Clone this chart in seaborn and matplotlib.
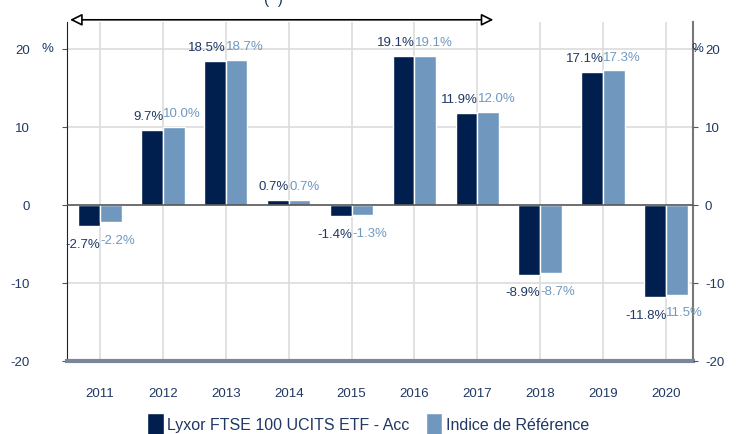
import seaborn as sb
import matplotlib.pyplot as plt
import pandas as pd
import numpy as np

years = ["2011", "2012", "2013", "2014", "2015", "2016", "2017", "2018", "2019", "2020"]
fund = [-2.7, 9.7, 18.5, 0.7, -1.4, 19.1, 11.9, -8.9, 17.1, -11.8]
index = [-2.2, 10.0, 18.7, 0.7, -1.3, 19.1, 12.0, -8.7, 17.3, -11.5]
fund_labels = ["-2.7%", "9.7%", "18.5%", "0.7%", "-1.4%", "19.1%", "11.9%", "-8.9%", "17.1%", "-11.8%"]
index_labels = ["-2.2%", "10.0%", "18.7%", "0.7%", "-1.3%", "19.1%", "12.0%", "-8.7%", "17.3%", "11.5%"]
series = ["Lyxor FTSE 100 UCITS ETF - Acc", "Indice de Référence"]

dark = "#001f4e"
light = "#7098bf"
txt = "#1f3864"

df = pd.DataFrame({
    "year": years * 2,
    "value": fund + index,
    "serie": [series[0]] * len(years) + [series[1]] * len(years),
})

sb.set_style("white")
plt.rcParams["font.family"] = ["Liberation Sans", "DejaVu Sans"]

fig = plt.figure(figsize=(7.36, 4.34), dpi=100)
ax = fig.add_axes([0.091, 0.168, 0.8505, 0.781])

# gridlines behind bars
for i in range(len(years)):
    ax.axvline(i, color="#dcdcdc", lw=1.2, zorder=0)
for v in [20, 10, -10]:
    ax.axhline(v, color="#dcdcdc", lw=1.2, zorder=0)

sb.barplot(data=df, x="year", y="value", hue="serie", palette=[dark, light],
           width=0.69, gap=0, saturation=1, ax=ax, zorder=2, legend=True)
ax.axhline(0, color="#555555", lw=1.2, zorder=3)

# value labels: dark to the left of the centre, light to the right
for k, (cont, labs, col) in enumerate(zip(ax.containers, [fund_labels, index_labels], [txt, light])):
    for bar, lab in zip(cont, labs):
        h = bar.get_height()
        if k == 0:
            x, ha, dx = bar.get_x() + bar.get_width(), "right", 0.3
        else:
            x, ha, dx = bar.get_x(), "left", 0.3
        if h >= 0:
            ax.annotate(lab, (x, h), xytext=(dx, 5), textcoords="offset points",
                        ha=ha, va="bottom", fontsize=9.5, color=col, zorder=4)
        else:
            ax.annotate(lab, (x, h), xytext=(dx, -9), textcoords="offset points",
                        ha=ha, va="top", fontsize=9.5, color=col, zorder=4)

ax.set_xlim(-0.525, 9.43)
ax.set_ylim(-20, 23.5)
ax.set_yticks([-20, -10, 0, 10, 20])
ax.set_yticklabels(["-20", "-10", "0", "10", "20"])
ax.set_xlabel("")
ax.set_ylabel("")
ax.tick_params(axis="y", left=True, length=3.6, color="#555555", labelsize=9.5,
               labelcolor=txt, pad=23)
ax.tick_params(axis="x", bottom=False, labelsize=9.5, labelcolor=txt, pad=16)

ax.spines["top"].set_visible(False)
ax.spines["left"].set_color("#222222")
ax.spines["right"].set_color("#777777")
ax.spines["right"].set_linewidth(1.5)
ax.spines["bottom"].set_color("#7a8699")
ax.spines["bottom"].set_linewidth(3)

ax2 = ax.twinx()
ax2.set_ylim(-20, 23.5)
ax2.set_yticks([-20, -10, 0, 10, 20])
ax2.set_yticklabels(["-20", "-10", "0", "10", "20"])
ax2.tick_params(axis="y", right=True, length=3.6, color="#555555", labelsize=9.5,
                labelcolor=txt, pad=5)
for s in ["top", "left", "bottom", "right"]:
    ax2.spines[s].set_visible(False)

ax.text(-0.83, 20, "%", fontsize=9.5, color=txt, ha="center", va="center",
        clip_on=False)
ax.text(9.5, 20, "%", fontsize=9.5, color=txt, ha="center", va="center",
        clip_on=False)
fig.text(0.372, 1.0, "(  )", fontsize=11, color=txt, ha="center", va="center")

# double arrow at the top
ax.annotate("", xy=(-0.52, 23.8), xytext=(6.3, 23.8), xycoords="data",
            arrowprops=dict(arrowstyle="<|-|>", color="black", lw=1.2,
                            fc="white", mutation_scale=18),
            annotation_clip=False)

ax.legend(loc="center", bbox_to_anchor=(0.5, 0.021), bbox_transform=fig.transFigure,
          ncol=2, frameon=False, fontsize=11.5, handlelength=1.05, handleheight=1.9,
          handletextpad=0.2, columnspacing=1.0, labelcolor=txt, borderpad=0)

plt.savefig("out.png", dpi=100)
